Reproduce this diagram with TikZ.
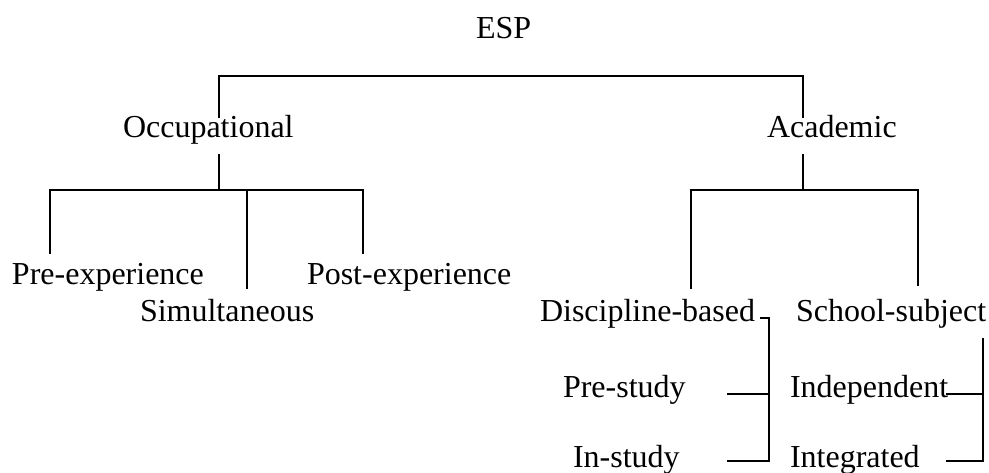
\documentclass[tikz,border=0pt]{standalone}
\usepackage{fontspec}
\setmainfont{Liberation Serif}
\begin{document}
\begin{tikzpicture}[x=1pt,y=-1pt,
  lbl/.style={anchor=base west,inner sep=0pt,outer sep=0pt,font=\fontsize{32}{36}\selectfont},
  conn/.style={line width=1.8pt,line cap=rect}]
\useasboundingbox (0,0) rectangle (989,473);
% labels
\node[lbl] (esp) at (476,39) {ESP};
\node[lbl] (occ) at (123,138) {Occupational};
\node[lbl] (aca) at (767,138) {Academic};
\node[lbl] (pre) at (12,285) {Pre-experience};
\node[lbl] (sim) at (140,322) {Simultaneous};
\node[lbl] (post) at (307,285) {Post-experience};
\node[lbl] (disc) at (540,322) {Discipline-based};
\node[lbl] (school) at (796,322) {School-subject};
\node[lbl] (prest) at (563,397) {Pre-study};
\node[lbl] (inst) at (573,467) {In-study};
\node[lbl] (indep) at (790,397) {Independent};
\node[lbl] (integ) at (790,467) {Integrated};
% coordinates of connector ends
\coordinate (occtop) at (219,117);
\coordinate (acatop) at (803,117);
\coordinate (topbar) at (219,76);
\coordinate (occbot) at (219,155);
\coordinate (occbar) at (219,190);
\coordinate (preend) at (50,253);
\coordinate (simend) at (247,288);
\coordinate (postend) at (363,253);
\coordinate (acabot) at (803,155);
\coordinate (acabar) at (803,190);
\coordinate (discend) at (691,288);
\coordinate (schoolend) at (918,285);
\coordinate (dtick) at (761,318);
\coordinate (dcorner) at (769,318);
\coordinate (dmid) at (769,394);
\coordinate (dbot) at (769,461);
\coordinate (prestend) at (728,394);
\coordinate (instend) at (728,461);
\coordinate (stop) at (983,339);
\coordinate (smid) at (983,394);
\coordinate (sbot) at (983,461);
\coordinate (independ) at (947,394);
\coordinate (integend) at (947,461);
% tree connectors
\draw[conn] (occtop) -- (topbar) -| (acatop);
\draw[conn] (occbot) -- (occbar);
\draw[conn] (preend) |- (occbar) -| (postend);
\draw[conn] (occbar -| simend) -- (simend);
\draw[conn] (acabot) -- (acabar);
\draw[conn] (discend) |- (acabar) -| (schoolend);
\draw[conn] (dtick) -- (dcorner) -- (dbot) -- (instend);
\draw[conn] (dmid) -- (prestend);
\draw[conn] (stop) -- (sbot) -- (integend);
\draw[conn] (smid) -- (independ);
\end{tikzpicture}
\end{document}
